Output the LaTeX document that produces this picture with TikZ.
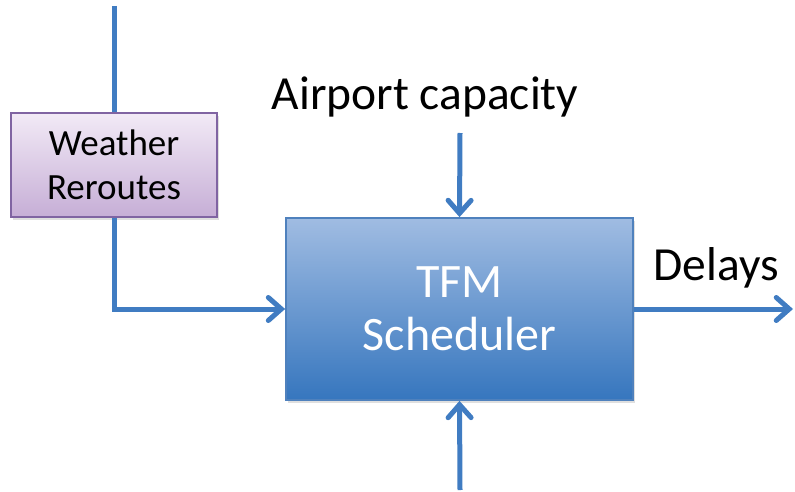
\documentclass[tikz,border=0pt]{standalone}
\usepackage{fontspec}
\setmainfont{Carlito}
\usetikzlibrary{arrows.meta,shadows}

\definecolor{flowblue}{RGB}{64,124,194}
\definecolor{boxedge}{RGB}{79,129,189}
\definecolor{boxtop}{RGB}{160,188,226}
\definecolor{boxbot}{RGB}{54,118,190}
\definecolor{wxedge}{RGB}{128,100,162}
\definecolor{wxtop}{RGB}{242,234,246}
\definecolor{wxbot}{RGB}{198,174,214}

\begin{document}
\begin{tikzpicture}[
  x=1pt, y=-1pt,
  wxbox/.style={rectangle, draw=wxedge, line width=1.8pt, top color=wxtop, bottom color=wxbot,
    minimum width=206pt, minimum height=104pt, align=center, font=\fontsize{37}{44}\selectfont,
    drop shadow={shadow xshift=2pt, shadow yshift=-3pt, opacity=0.25}},
  tfmbox/.style={rectangle, draw=boxedge, line width=1.8pt, top color=boxtop, bottom color=boxbot,
    minimum width=347pt, minimum height=182pt, align=center, text=white,
    font=\fontsize{48}{53}\selectfont,
    drop shadow={shadow xshift=2pt, shadow yshift=-3pt, opacity=0.25}},
  flow/.style={draw=flowblue, line width=5pt},
  arrow/.style={flow, -{Straight Barb[length=13pt, width=23pt, line cap=round]}},
  label/.style={font=\fontsize{47.5}{53}\selectfont, inner sep=0pt},
]
\useasboundingbox (0,0) rectangle (795,492);

% === Blocks ===
\node[wxbox] (weather) at (114,165) {Weather\\Reroutes};
\node[tfmbox] (tfm) at (459.5,309) {TFM\\Scheduler};

% === Labels ===
\node[label] (capacity) at (425,97) {Airport capacity};
\node[label] (delays) at (716,268) {Delays};

% === Free ends ===
\coordinate (wtop) at (114,6);
\coordinate (capin) at (460,133);
\coordinate (dout) at (793,309);
\coordinate (bin) at (460,490);

% === Connectors ===
\draw[flow] (wtop) -- (weather.north);
\draw[arrow] (weather.south) |- (tfm.west);
\draw[arrow] (capin) -- (tfm.north);
\draw[arrow] (tfm.east) -- (dout);
\draw[arrow] (bin) -- (tfm.south);

\end{tikzpicture}
\end{document}
